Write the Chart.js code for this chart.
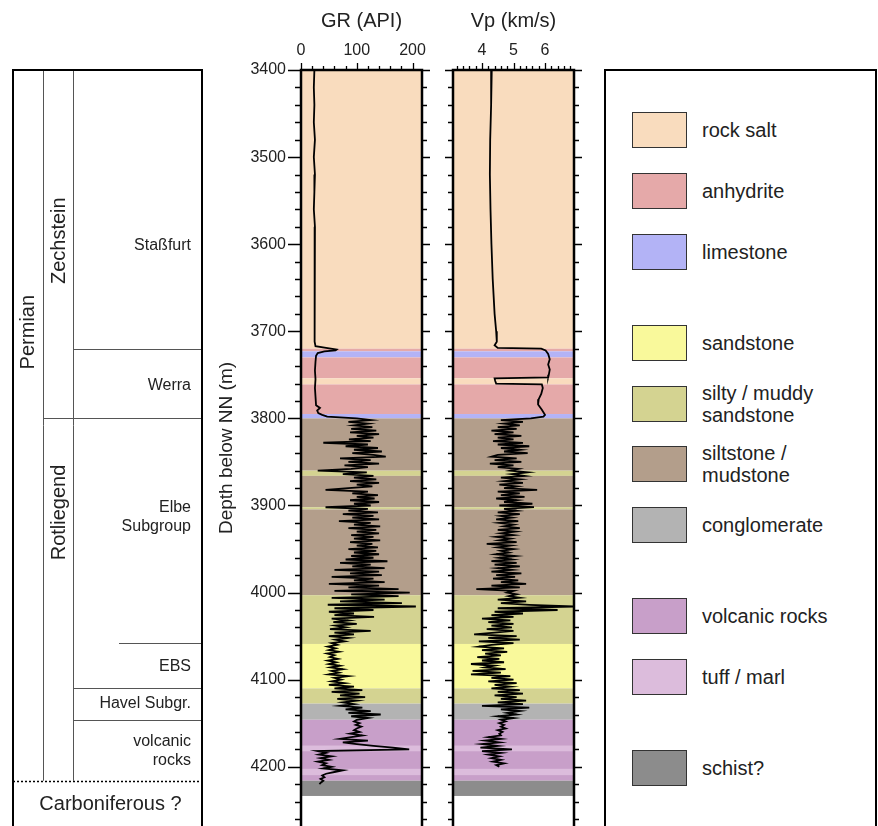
<!DOCTYPE html>
<html lang="en">
<head>
<meta charset="UTF-8">
<title>Well log: GR and Vp with lithology</title>
<script src="https://cdn.jsdelivr.net/npm/chart.js"></script>
<style>
  body { margin: 0; background: #fff; overflow: hidden; }
  #page { position: relative; width: 878px; height: 826px; overflow: hidden;
          font-family: "Liberation Sans", Arial, sans-serif; color: #222; }
  canvas { position: absolute; top: 0; }
  #legend { position: absolute; left: 604px; top: 69px; width: 269px; height: 800px;
            border: 2px solid #000; }
  .item { position: absolute; left: 26px; height: 36px; display: flex; align-items: center; }
  .swatch { width: 55px; height: 36px; border: 1px solid #333; box-sizing: border-box; flex: none; }
  .label { margin-left: 15px; font-size: 20px; line-height: 22px; white-space: pre; }
</style>
</head>
<body>
<div id="page">
  <canvas id="stratChart" width="206" height="826" style="left:0"></canvas>
  <canvas id="grChart" width="240" height="826" style="left:200px"></canvas>
  <canvas id="vpChart" width="160" height="826" style="left:440px"></canvas>
  <div id="legend"></div>
</div>
<script>
// ---- lithology legend ----
const legendLabels = ['rock salt', 'anhydrite', 'limestone', 'sandstone', 'silty / muddy\nsandstone',
  'siltstone /\nmudstone', 'conglomerate', 'volcanic rocks', 'tuff / marl', 'schist?'];
const legendColors = ['#f9dcbe', '#e5a9a9', '#b3b3f6', '#f9f99b', '#d4d391',
  '#b39e8b', '#b3b3b3', '#c89fc9', '#dcbcdc', '#8c8c8c'];

// ---- lithology intervals (m below NN), type = index into legend ----
const litTop  = [3400, 3720, 3723, 3730, 3754, 3761, 3795, 3800, 3860, 3866, 3902, 3904.5,
  4003, 4059, 4110, 4127.5, 4146, 4176, 4182, 4202.5, 4209.5, 4216];
const litBase = [3720, 3723, 3730, 3754, 3761, 3795, 3800, 3860, 3866, 3902, 3904.5, 4003,
  4059, 4110, 4127.5, 4146, 4176, 4182, 4202.5, 4209.5, 4216, 4233.5];
const litType = [0, 1, 2, 1, 0, 1, 2, 5, 4, 5, 4, 5, 4, 3, 4, 6, 7, 8, 7, 8, 7, 9];

// ---- stratigraphy ----
const formationNames = ['Staßfurt', 'Werra', 'Elbe\nSubgroup', 'EBS', 'Havel Subgr.', 'volcanic\nrocks'];
const formationTops  = [3400, 3720, 3800, 4058, 4110, 4146];
const groupNames = ['Zechstein', 'Rotliegend'];
const groupTops  = [3400, 3800];
const systemName = 'Permian';
const systemBase = 4216;
const belowName = 'Carboniferous ?';

// ---- axes ----
const depthTicks = [3400, 3500, 3600, 3700, 3800, 3900, 4000, 4100, 4200];
const grTicks = [0, 100, 200];
const vpTicks = [4, 5, 6];

// ---- GR (API): upper part read at irregular depths ----
const grTopDepth = [3400, 3420, 3440, 3460, 3480, 3500, 3520, 3540, 3560, 3580,
  3600, 3620, 3640, 3660, 3680, 3700, 3712, 3717, 3719, 3721, 3722, 3723, 3725, 3728, 3735,
  3745, 3755, 3765, 3775, 3785, 3788, 3791, 3794, 3796, 3798];
const grTopValue = [24, 23, 24, 23, 25, 23, 25, 24, 23, 25,
  24, 25, 24, 25, 24, 25, 24, 26, 45, 64, 62, 42, 30, 27, 26,
  25, 26, 25, 26, 27, 34, 29, 31, 38, 47];
// GR lower part, sampled every 2 m from 3800 m
const grLogStart = 3800, grLogStep = 2;
const grLog = [
  100, 125, 85, 120, 95, 128, 90,        // 3800
  135, 88, 140, 100, 130, 86, 125,       // 3814
  40,                                    // 3828
  120, 80, 138, 95, 145, 92, 130,        // 3830
  152, 70, 125, 85, 140, 78, 120,        // 3844
  90, 30, 118, 75, 130,                  // 3858
  95, 135, 88, 140, 100, 128, 85,        // 3868
  44, 120, 92, 138, 100,                 // 3882
  132, 88, 140, 95, 125,                 // 3892
  44,                                    // 3902
  120, 85, 138, 75, 130, 92, 140,        // 3904
  68, 125, 95, 142, 85, 135, 100,        // 3918
  140, 90, 130, 95, 142, 88, 128,        // 3932
  100, 138, 85, 135, 95, 140, 90,        // 3946
  130, 80, 155, 70, 125, 92, 150,        // 3960
  60, 140, 88, 145, 55, 130, 95,         // 3974
  150, 50, 140, 85, 175, 60,             // 3988
  195, 90,                               // 4000
  175, 55, 150, 70, 181, 48, 206,        // 4004
  60, 130, 50, 95, 60, 131, 55,          // 4018
  85, 58, 100, 62, 80, 52, 125,          // 4032
  60, 95, 50, 85, 62, 78, 55,            // 4046
  65, 48, 62, 50, 68, 47, 60,            // 4060
  52, 66, 48, 63, 50, 70, 53,            // 4074
  75, 55, 68, 50, 85, 60, 72,            // 4088
  55, 78, 50, 95,                        // 4102
  60, 110, 55, 105, 70, 115, 65, 100, 75,  // 4110
  95, 70, 110, 80, 125, 85, 143, 90, 120,  // 4128
  100, 95, 105, 98, 108, 100, 95, 105, 88, 110, 90,  // 4146
  70, 120, 75, 100, 130, 165,            // 4168
  194,                                   // 4180
  30, 45, 32, 55, 35, 50, 30, 45, 38,    // 4182
  55, 40, 75, 60, 45, 38,                // 4200
  42, 35, 40, 36, 33                     // 4212
];

// ---- Vp (km/s) ----
const vpTopDepth = [3400, 3440, 3480, 3520, 3560, 3600, 3640, 3680, 3700, 3712,
  3716, 3719, 3720, 3722, 3726, 3732, 3738, 3744, 3750, 3753,
  3754, 3757, 3760, 3761, 3765, 3772, 3778, 3784, 3790, 3796, 3798];
const vpTopValue = [4.31, 4.29, 4.26, 4.25, 4.27, 4.30, 4.34, 4.40, 4.45, 4.47,
  4.40, 4.50, 5.88, 6.02, 6.10, 6.15, 6.10, 6.15, 6.12, 6.10,
  4.40, 4.42, 4.45, 5.90, 5.93, 5.88, 5.80, 5.78, 5.90, 6.00, 5.95];
const vpLogStart = 3800, vpLogStep = 2;
const vpLog = [
  5.55, 4.6, 5.3, 4.7, 5.2, 4.5, 5.1,               // 3800
  4.3, 5.0, 4.4, 5.25, 4.5, 5.0, 4.35,              // 3814
  5.3, 4.5, 5.5, 4.6, 5.2, 4.7, 5.45, 4.5,          // 3828
  4.3, 5.1, 4.4, 5.25, 4.25, 5.0, 4.5, 5.15,        // 3844
  4.9, 5.45, 4.95, 5.35,                            // 3860
  4.6, 5.2, 4.7, 5.3, 4.55, 5.1, 4.7,               // 3868
  5.75,                                             // 3882
  4.5, 5.2, 4.6, 5.35, 4.45, 5.1, 4.7, 5.6,         // 3884
  4.55, 5.65, 4.7,                                  // 3900
  5.1, 4.5, 5.2, 4.6, 4.95, 4.45, 5.15, 4.55, 5.0, 4.7, 5.2, 4.5, 5.05, 4.6,        // 3906
  5.0, 4.45, 4.9, 4.55, 5.1, 4.15, 4.9, 4.5, 5.0, 4.6, 4.85, 4.45, 5.05, 4.55, 4.95, // 3934
  4.3, 5.1, 4.4, 5.2, 4.5, 4.95, 4.3, 5.25, 4.45, 5.05, 4.35, 5.15,  // 3964
  4.6, 5.4, 4.3, 5.2, 3.82, 5.0,                    // 3988
  4.8, 5.1, 4.85, 5.2, 4.5, 5.4, 4.6, 5.5,          // 4000
  6.9,                                              // 4016
  4.5, 6.4, 4.4, 5.3, 4.3, 5.0, 4.0,                // 4018
  4.9, 4.2, 5.0, 4.3, 4.95, 4.15, 5.0, 4.4, 3.75,   // 4032
  5.1, 4.2, 5.2, 3.9, 5.0,                          // 4050
  4.3, 3.9, 4.7, 4.0, 4.8, 4.1, 4.6, 3.85,          // 4060
  4.55, 4.0, 4.7, 3.65, 4.4, 4.1, 4.75, 3.7,        // 4076
  4.6, 3.65, 4.9, 4.3, 5.0, 4.2, 5.1, 4.4, 4.9,     // 4092
  4.3, 5.2, 4.5, 5.3, 4.4, 5.1, 4.6, 5.4, 4.5,      // 4110
  5.3, 4.0, 5.5, 4.6, 5.2, 4.8, 5.1, 4.5, 5.0,      // 4128
  4.6, 4.75, 4.55, 4.7, 4.6, 4.75, 4.5, 4.65, 4.55, 4.6,  // 4146
  4.2, 4.6, 4.1, 4.55, 4.0, 4.5,                    // 4166
  3.95, 4.95, 4.0, 4.6, 4.2, 4.55, 4.3,             // 4178
  4.6, 4.35, 4.7, 4.45, 4.55                        // 4192
];

// build {x, y} points: x = log value, y = depth
function logPoints(topDepth, topValue, start, step, values) {
  const pts = topDepth.map((d, i) => ({x: topValue[i], y: d}));
  values.forEach((v, i) => pts.push({x: v, y: start + i * step}));
  return pts;
}

const FONT = '"Liberation Sans", Arial, sans-serif';
Chart.defaults.font.family = FONT;
Chart.defaults.color = '#222';

// lithology colour bands behind the curve
const bandsPlugin = {
  id: 'bands',
  beforeDatasetsDraw(chart) {
    const {ctx, chartArea: a, scales: {y}} = chart;
    ctx.save();
    litTop.forEach((top, i) => {
      const y0 = y.getPixelForValue(top), y1 = y.getPixelForValue(litBase[i]);
      ctx.fillStyle = legendColors[litType[i]];
      ctx.fillRect(a.left, y0, a.right - a.left, y1 - y0);
    });
    ctx.restore();
  }
};

// track frame with outward major / minor ticks
const framePlugin = {
  id: 'frame',
  afterDraw(chart, args, o) {
    const {ctx, chartArea: a, scales: {x, y}} = chart;
    ctx.save();
    ctx.strokeStyle = '#000';
    ctx.lineWidth = 1.3;
    ctx.beginPath();
    for (let d = y.min; d <= y.max; d += 20) {
      const py = Math.round(y.getPixelForValue(d)) + 0.5;
      const major = d % 100 === 0;
      const l = major ? o.leftMajor : o.leftMinor, r = major ? o.rightMajor : o.rightMinor;
      ctx.moveTo(a.left - l, py); ctx.lineTo(a.left, py);
      ctx.moveTo(a.right, py); ctx.lineTo(a.right + r, py);
    }
    const i0 = Math.ceil(x.min / o.xMinor - 1e-6), i1 = Math.floor(x.max / o.xMinor + 1e-6);
    for (let i = i0; i <= i1; i++) {
      const v = i * o.xMinor;
      const q = v / o.xMajor;
      const major = Math.abs(q - Math.round(q)) < 1e-6;
      const px = Math.round(x.getPixelForValue(v)) + 0.5;
      ctx.moveTo(px, a.top); ctx.lineTo(px, a.top - (major ? o.topMajor : o.topMinor));
    }
    ctx.stroke();
    ctx.lineWidth = 2.5;
    ctx.beginPath();
    ctx.moveTo(a.left, a.bottom); ctx.lineTo(a.left, a.top);
    ctx.lineTo(a.right, a.top); ctx.lineTo(a.right, a.bottom);
    ctx.stroke();
    ctx.restore();
  }
};

// stratigraphic column
const stratPlugin = {
  id: 'strat',
  afterDraw(chart, args, o) {
    const {ctx, chartArea: a, scales: {y}} = chart;
    const c1 = a.left + 30, c2 = a.left + 60, yEnd = y.getPixelForValue(systemBase);
    const px = v => Math.round(v) + 0.5;
    ctx.save();
    ctx.strokeStyle = '#555';
    ctx.lineWidth = 1;
    ctx.beginPath();
    ctx.moveTo(px(c1), a.top); ctx.lineTo(px(c1), yEnd);
    ctx.moveTo(px(c2), a.top); ctx.lineTo(px(c2), yEnd);
    formationTops.forEach((d, i) => {
      if (i === 0) return;
      const py = px(y.getPixelForValue(d));
      const x0 = groupTops.includes(d) ? c1 : (o.subUnit[i] ? a.left + 106 : c2);
      ctx.moveTo(x0, py); ctx.lineTo(a.right, py);
    });
    ctx.stroke();
    // base of Permian, dotted
    ctx.strokeStyle = '#000';
    ctx.lineWidth = 1.5;
    ctx.setLineDash([2, 2]);
    ctx.beginPath();
    ctx.moveTo(a.left, px(yEnd)); ctx.lineTo(a.right, px(yEnd));
    ctx.stroke();
    ctx.setLineDash([]);
    // outer box
    ctx.lineWidth = 2;
    ctx.beginPath();
    ctx.moveTo(a.left, a.bottom); ctx.lineTo(a.left, a.top);
    ctx.lineTo(a.right, a.top); ctx.lineTo(a.right, a.bottom);
    ctx.stroke();

    ctx.fillStyle = '#222';
    ctx.textBaseline = 'middle';
    // formation names, right aligned
    ctx.font = '16px ' + FONT;
    ctx.textAlign = 'right';
    formationNames.forEach((name, i) => {
      const lines = name.split('\n');
      const yc = y.getPixelForValue(o.formationLabelDepth[i]);
      lines.forEach((t, k) => ctx.fillText(t, a.right - 11, yc + (k - (lines.length - 1) / 2) * 19));
    });
    // rotated names
    ctx.font = '20px ' + FONT;
    ctx.textAlign = 'center';
    const vertical = (t, x, d) => {
      ctx.save();
      ctx.translate(x, y.getPixelForValue(d));
      ctx.rotate(-Math.PI / 2);
      ctx.fillText(t, 0, 0);
      ctx.restore();
    };
    vertical(systemName, (a.left + c1) / 2, o.systemLabelDepth);
    groupNames.forEach((g, i) => vertical(g, (c1 + c2) / 2 + 1, o.groupLabelDepth[i]));
    ctx.fillText(belowName, (a.left + a.right) / 2 + 3, (yEnd + a.bottom) / 2 + 1);
    ctx.restore();
  }
};

const commonScaleY = {
  type: 'linear', reverse: true, min: 3400, max: 4268
};

// stratigraphic column chart (scales only, no visible axes)
new Chart(document.getElementById('stratChart'), {
  type: 'scatter',
  data: {datasets: []},
  options: {
    responsive: false, animation: false,
    layout: {padding: {top: 70, left: 13, right: 4, bottom: 0}},
    plugins: {
      legend: {display: false}, tooltip: {enabled: false},
      strat: {
        subUnit: [false, false, false, true, false, false],
        formationLabelDepth: [3602, 3762, 3913, 4085, 4128, 4182],
        groupLabelDepth: [3596, 3908],
        systemLabelDepth: 3701
      }
    },
    scales: {
      x: {type: 'linear', display: false, min: 0, max: 1},
      y: Object.assign({display: false}, commonScaleY)
    }
  },
  plugins: [stratPlugin]
});

// GR track
new Chart(document.getElementById('grChart'), {
  type: 'scatter',
  data: {datasets: [{
    data: logPoints(grTopDepth, grTopValue, grLogStart, grLogStep, grLog),
    showLine: true, borderColor: '#000', borderWidth: 1.8, pointRadius: 0
  }]},
  options: {
    responsive: false, animation: false,
    layout: {padding: {top: 0, left: 0, right: 18, bottom: 0}},
    plugins: {
      legend: {display: false}, tooltip: {enabled: false},
      frame: {leftMajor: 13, leftMinor: 6, rightMajor: 8, rightMinor: 5,
              topMajor: 7, topMinor: 4, xMinor: 20, xMajor: 100}
    },
    scales: {
      x: {
        type: 'linear', position: 'top', min: 0, max: 217,
        afterFit: s => { s.height = 70; },
        afterBuildTicks: s => { s.ticks = grTicks.map(v => ({value: v})); },
        grid: {display: false, drawTicks: false}, border: {display: false},
        ticks: {padding: 10, font: {size: 16}, maxRotation: 0, callback: v => String(v)},
        title: {display: true, text: 'GR (API)', font: {size: 20}, padding: {top: 9, bottom: 0}}
      },
      y: Object.assign({
        position: 'left',
        // fixed width; no extra room reserved above/below for the end labels
        afterFit: s => { s.width = 101; s.paddingTop = 0; s.paddingBottom = 0; },
        afterBuildTicks: s => { s.ticks = depthTicks.map(v => ({value: v})); },
        grid: {display: false, drawTicks: false}, border: {display: false},
        ticks: {padding: 15, font: {size: 16}, callback: v => String(v)},
        title: {display: true, text: 'Depth below NN (m)', font: {size: 19}, padding: {top: 15, bottom: 0}}
      }, commonScaleY)
    }
  },
  plugins: [bandsPlugin, framePlugin]
});

// Vp track
new Chart(document.getElementById('vpChart'), {
  type: 'scatter',
  data: {datasets: [{
    data: logPoints(vpTopDepth, vpTopValue, vpLogStart, vpLogStep, vpLog),
    showLine: true, borderColor: '#000', borderWidth: 1.8, pointRadius: 0
  }]},
  options: {
    responsive: false, animation: false,
    layout: {padding: {top: 0, left: 13, right: 26, bottom: 0}},
    plugins: {
      legend: {display: false}, tooltip: {enabled: false},
      frame: {leftMajor: 8, leftMinor: 5, rightMajor: 8, rightMinor: 5,
              topMajor: 7, topMinor: 4, xMinor: 0.2, xMajor: 1}
    },
    scales: {
      x: {
        type: 'linear', position: 'top', min: 3.08, max: 6.92,
        afterFit: s => { s.height = 70; },
        afterBuildTicks: s => { s.ticks = vpTicks.map(v => ({value: v})); },
        grid: {display: false, drawTicks: false}, border: {display: false},
        ticks: {padding: 10, font: {size: 16}, maxRotation: 0, callback: v => String(v)},
        title: {display: true, text: 'Vp (km/s)', font: {size: 20}, padding: {top: 9, bottom: 0}}
      },
      y: Object.assign({display: false}, commonScaleY)
    }
  },
  plugins: [bandsPlugin, framePlugin]
});

// legend box (extra gaps between rock groups)
const legendSlots = [0, 1, 2, 3.5, 4.5, 5.5, 6.5, 8, 9, 10.5];
const legendBox = document.getElementById('legend');
legendLabels.forEach((lab, i) => {
  const item = document.createElement('div');
  item.className = 'item';
  item.style.top = (41 + legendSlots[i] * 60.8) + 'px';
  const sw = document.createElement('div');
  sw.className = 'swatch';
  sw.style.background = legendColors[i];
  const tx = document.createElement('div');
  tx.className = 'label';
  tx.textContent = lab;
  item.appendChild(sw);
  item.appendChild(tx);
  legendBox.appendChild(item);
});
</script>
</body>
</html>
